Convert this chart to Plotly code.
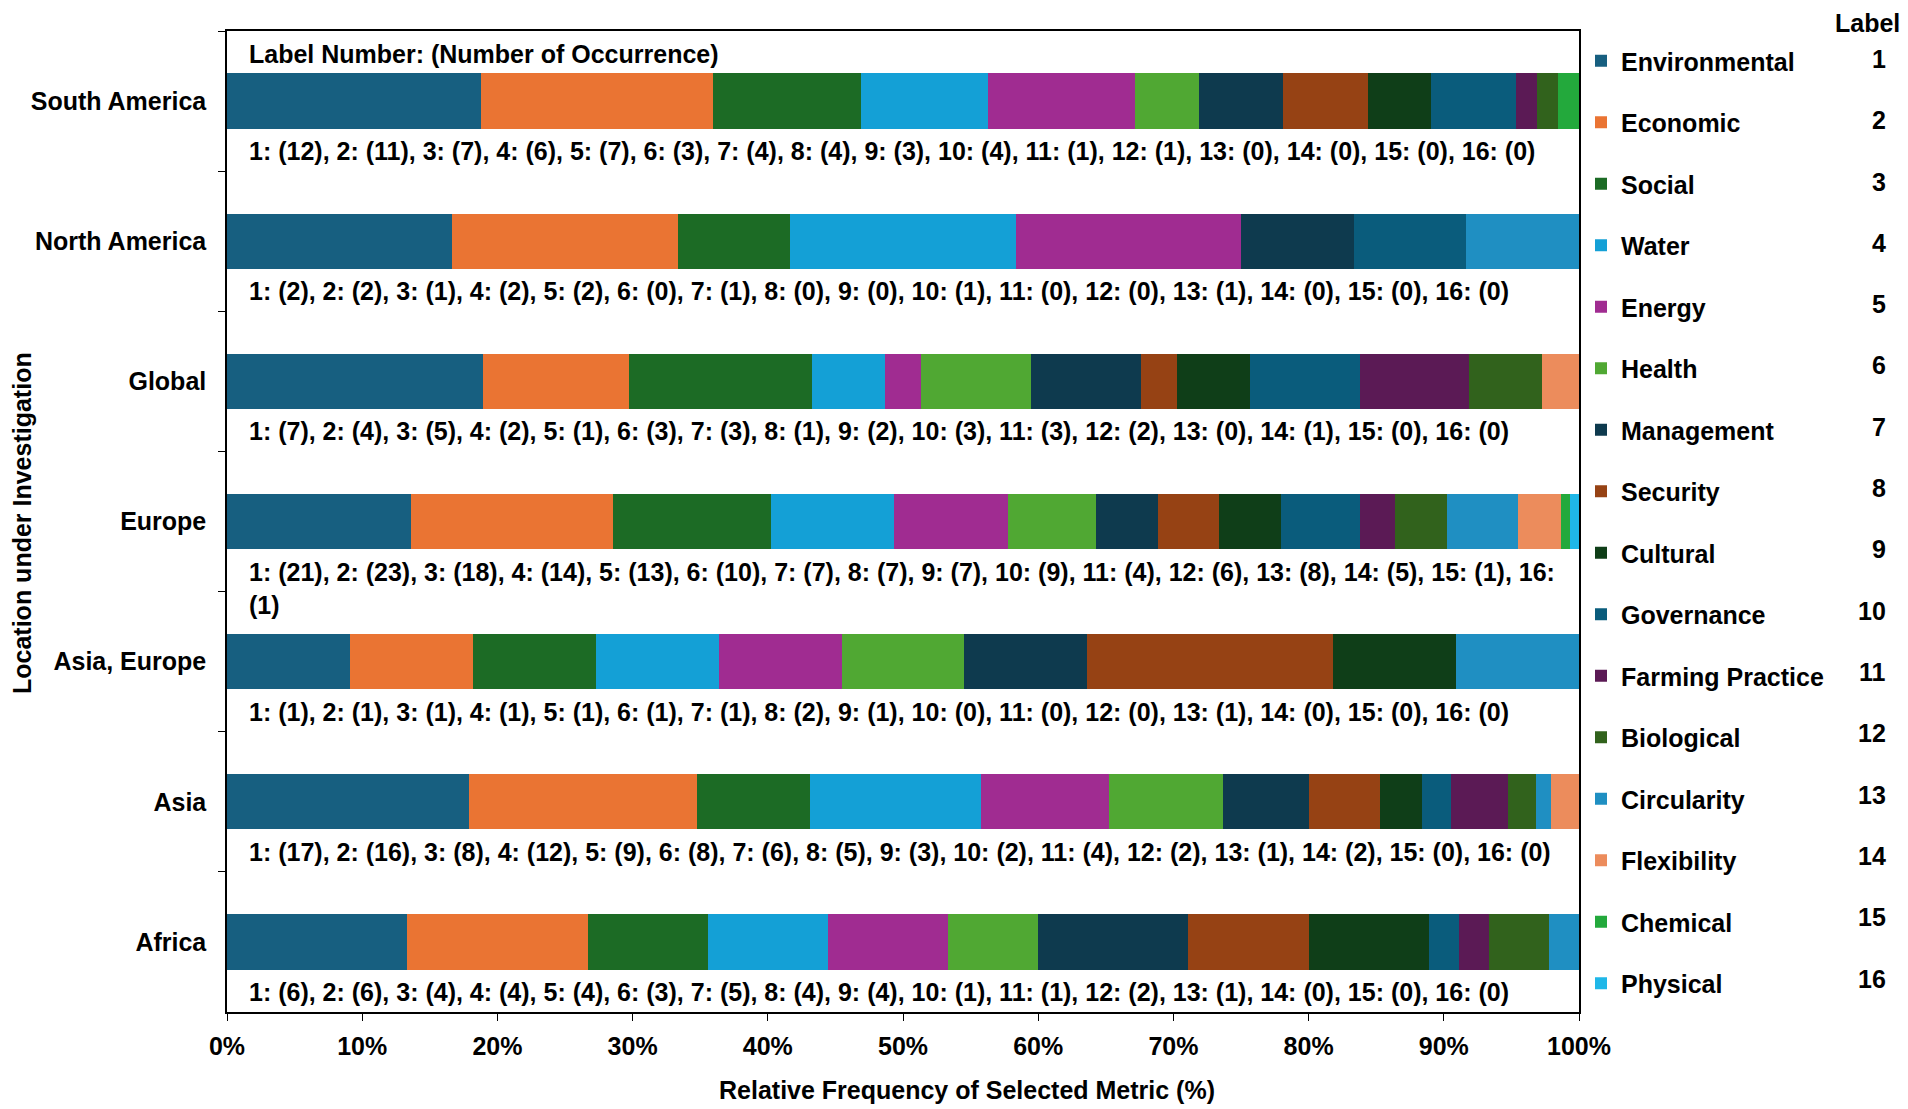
import plotly.graph_objects as go

# locations (top to bottom)
regions = ["South America", "North America", "Global", "Europe",
           "Asia, Europe", "Asia", "Africa"]

metrics = ["Environmental", "Economic", "Social", "Water", "Energy", "Health",
           "Management", "Security", "Cultural", "Governance",
           "Farming Practice", "Biological", "Circularity", "Flexibility",
           "Chemical", "Physical"]

colors = ["#175f80", "#ea7433", "#1c6b25", "#14a0d6", "#a02c91", "#50a833",
          "#0e3a4e", "#964214", "#0f3e18", "#0a5c7c", "#5b1a55", "#31621c",
          "#1f8fc2", "#ec8c5c", "#23a93c", "#1fb7e8"]

# number of occurrences per metric, same order as regions
environmental = [12, 2, 7, 21, 1, 17, 6]
economic = [11, 2, 4, 23, 1, 16, 6]
social = [7, 1, 5, 18, 1, 8, 4]
water = [6, 2, 2, 14, 1, 12, 4]
energy = [7, 2, 1, 13, 1, 9, 4]
health = [3, 0, 3, 10, 1, 8, 3]
management = [4, 1, 3, 7, 1, 6, 5]
security = [4, 0, 1, 7, 2, 5, 4]
cultural = [3, 0, 2, 7, 1, 3, 4]
governance = [4, 1, 3, 9, 0, 2, 1]
farming = [1, 0, 3, 4, 0, 4, 1]
biological = [1, 0, 2, 6, 0, 2, 2]
circularity = [0, 1, 0, 8, 1, 1, 1]
flexibility = [0, 0, 1, 5, 0, 2, 0]
chemical = [1, 0, 0, 1, 0, 0, 0]   # SA bar shows a chemical slice
physical = [0, 0, 0, 1, 0, 0, 0]

series = [environmental, economic, social, water, energy, health, management,
          security, cultural, governance, farming, biological, circularity,
          flexibility, chemical, physical]

# text printed under each bar
count_labels = [
    "1: (12), 2: (11), 3: (7), 4: (6), 5: (7), 6: (3), 7: (4), 8: (4), 9: (3), 10: (4), 11: (1), 12: (1), 13: (0), 14: (0), 15: (0), 16: (0)",
    "1: (2), 2: (2), 3: (1), 4: (2), 5: (2), 6: (0), 7: (1), 8: (0), 9: (0), 10: (1), 11: (0), 12: (0), 13: (1), 14: (0), 15: (0), 16: (0)",
    "1: (7), 2: (4), 3: (5), 4: (2), 5: (1), 6: (3), 7: (3), 8: (1), 9: (2), 10: (3), 11: (3), 12: (2), 13: (0), 14: (1), 15: (0), 16: (0)",
    "1: (21), 2: (23), 3: (18), 4: (14), 5: (13), 6: (10), 7: (7), 8: (7), 9: (7), 10: (9), 11: (4), 12: (6), 13: (8), 14: (5), 15: (1), 16:<br>(1)",
    "1: (1), 2: (1), 3: (1), 4: (1), 5: (1), 6: (1), 7: (1), 8: (2), 9: (1), 10: (0), 11: (0), 12: (0), 13: (1), 14: (0), 15: (0), 16: (0)",
    "1: (17), 2: (16), 3: (8), 4: (12), 5: (9), 6: (8), 7: (6), 8: (5), 9: (3), 10: (2), 11: (4), 12: (2), 13: (1), 14: (2), 15: (0), 16: (0)",
    "1: (6), 2: (6), 3: (4), 4: (4), 5: (4), 6: (3), 7: (5), 8: (4), 9: (4), 10: (1), 11: (1), 12: (2), 13: (1), 14: (0), 15: (0), 16: (0)",
]

label_numbers = [str(i) for i in range(1, 17)]

fig = go.Figure()
for name, vals, col in zip(metrics, series, colors):
    fig.add_trace(go.Bar(
        y=regions, x=vals, orientation="h", name=name,
        marker=dict(color=col, line=dict(width=0)),
        legendgroup=name,
    ))

# page body has an 8px margin, so the figure is drawn 8px in from the corner
OFF = 8
W, H = 1908 - OFF, 1109 - OFF
ml, mt = 227 - OFF, 31 - OFF
mr = W - (1579 - OFF)
mb = H - (1012 - OFF)
pw, ph = W - ml - mr, H - mt - mb


# screen pixel -> paper coords
def px_x(x):
    return (x - OFF - ml) / pw


def px_y(y):
    return 1 - (y - OFF - mt) / ph


annotations = []
for reg, txt in zip(regions, count_labels):
    annotations.append(dict(
        x=px_x(247), xref="paper", xanchor="left",
        y=reg, yref="y", yanchor="top", yshift=-34,
        text=txt, showarrow=False, align="left",
    ))

annotations.append(dict(x=px_x(247), xref="paper", xanchor="left",
                        y=px_y(54), yref="paper", yanchor="middle",
                        text="Label Number: (Number of Occurrence)",
                        showarrow=False))
annotations.append(dict(x=px_x(967), xref="paper", xanchor="center",
                        y=px_y(1090), yref="paper", yanchor="middle",
                        text="Relative Frequency of Selected Metric (%)",
                        showarrow=False))
annotations.append(dict(x=px_x(22), xref="paper", xanchor="center",
                        y=px_y(523), yref="paper", yanchor="middle",
                        text="Location under Investigation", textangle=-90,
                        showarrow=False))
annotations.append(dict(x=px_x(1902), xref="paper", xanchor="right",
                        y=px_y(23), yref="paper", yanchor="middle",
                        text="Label", showarrow=False))
for i, lab in enumerate(label_numbers):
    annotations.append(dict(x=px_x(1888), xref="paper", xanchor="right",
                            y=px_y(59 + 61.3 * i), yref="paper",
                            yanchor="middle", text=lab, showarrow=False))

fig.update_layout(
    width=W, height=H,
    margin=dict(l=ml, r=mr, t=mt, b=mb),
    barmode="stack", barnorm="percent", bargap=0.605,
    plot_bgcolor="white", paper_bgcolor="white",
    font=dict(family="Liberation Sans, Arial, sans-serif", size=25,
              color="black", weight="bold"),
    showlegend=True,
    legend=dict(x=px_x(1581), xanchor="left", y=px_y(38), yanchor="top",
                traceorder="grouped", tracegroupgap=26,
                font=dict(size=25), bgcolor="rgba(0,0,0,0)"),
    annotations=annotations,
)

fig.update_xaxes(range=[0, 100], dtick=10, ticksuffix="%", ticks="outside",
                 ticklen=7, tickcolor="black", showline=True, linecolor="black",
                 linewidth=1.5, mirror=True, showgrid=False, zeroline=False,
                 ticklabelstandoff=4)
fig.update_yaxes(type="category", categoryorder="array", categoryarray=regions,
                 autorange="reversed", tickson="boundaries", ticks="outside",
                 ticklen=7, tickcolor="black", showline=True, linecolor="black",
                 linewidth=1.5, mirror=True, showgrid=False, zeroline=False,
                 ticklabelstandoff=14)

fig.write_html("out.html")
